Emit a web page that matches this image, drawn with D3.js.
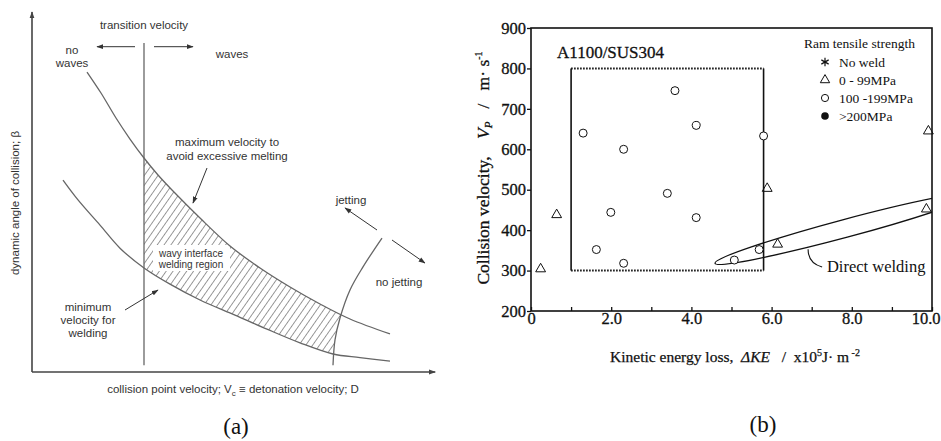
<!DOCTYPE html>
<html><head><meta charset="utf-8">
<script src="https://cdn.jsdelivr.net/npm/d3@7"></script>
<style>
html,body{margin:0;padding:0;background:#fff;}
svg{display:block;}
</style></head>
<body>
<svg id="chart" width="941" height="441"></svg>
<script>
// ---------------- Panel (a) data (abstract units 0..100) ----------------
const transitionVelocity = 28;
const upperCurve = [[13.75,83.33],[17.25,77.5],[21,70.56],[24.5,64.72],[28,59.44],[31.5,54.72],[35,50.56],[42,42.78],[49.5,35],[57,28.89],[64.5,23.61],[72,18.89],[79.5,14.72],[89.5,10.56]];
const lowerCurve = [[7.75,53.3],[11.5,47.8],[17,40.8],[22,34.4],[28,28.9],[34.5,24.4],[42,20],[50.75,15.8],[58.75,11.9],[67,8.1],[75.25,5.0],[82,4.0],[89.5,3.0]];
const jettingCurve = [[87.5,37.2],[82.75,29.2],[79.5,22.8],[77,15],[75.75,8.9],[75.25,1.9]];

// ---------------- Panel (b) data ----------------
const xTicksB = [0,1,2,3,4,5,6,7,8,9,10];
const xTickLabelsB = ["0","","2.0","","4.0","","6.0","","8.0","","10.0"];
const yTicksB = [200,300,400,500,600,700,800,900];
const circlesX = [1.30,2.31,3.59,4.12,5.80,3.40,1.99,4.12,1.63,2.31,5.07,5.69];
const circlesY = [640,600,745,659,633,491,444,431,352,318,326,352];
const trianglesX = [0.24,0.64,5.89,6.15,9.91,9.86];
const trianglesY = [304,438,503,365,645,452];
const boxRange = {x:[1.0,5.8], y:[300,800]};
const ellipseCenter = [7.83,404];
const ellipseTip = [4.59,318];
const ellipseMinorRatio = 0.067;
const legendTitle = "Ram tensile strength";
const legendLabels = ["No weld","0 - 99MPa","100 -199MPa",">200MPa"];
const legendKinds = ["asterisk","triangle","circle","filled"];

const NB = "\u00A0";
const svg = d3.select("#chart");
const defs = svg.append("defs");

// arrow markers
function marker(id,color){
  defs.append("marker").attr("id",id).attr("viewBox","0 0 10 10")
    .attr("refX",9).attr("refY",5).attr("markerWidth",7).attr("markerHeight",7)
    .attr("markerUnits","userSpaceOnUse").attr("orient","auto")
    .append("path").attr("d","M0,1.5 L10,5 L0,8.5 Z").attr("fill",color);
}
marker("arrA","#333");
marker("arrAxis","#444");

// ======================= Panel (a) =======================
const xA = d3.scaleLinear().domain([0,100]).range([32,432]);
const yA = d3.scaleLinear().domain([0,100]).range([372,12]);
const gA = svg.append("g");
const lineA = d3.line().x(d=>xA(d[0])).y(d=>yA(d[1])).curve(d3.curveCatmullRom.alpha(0.5));
const lineColor = "#666";
const txtColor = "#333";
const sans = "'Liberation Sans', Arial, sans-serif";

// hatch pattern
const pat = defs.append("pattern").attr("id","hatch").attr("patternUnits","userSpaceOnUse")
  .attr("width",5.6).attr("height",10).attr("patternTransform","rotate(35)");
pat.append("line").attr("x1",0).attr("y1",0).attr("x2",0).attr("y2",10)
  .attr("stroke","#555").attr("stroke-width",1.2);

// clip: band between curves
const upperPath = lineA(upperCurve);
const lowerRevPath = lineA(lowerCurve.slice().reverse());
defs.append("clipPath").attr("id","bandClip").append("path")
  .attr("d", upperPath + lowerRevPath.replace(/^M/,"L") + "Z");
const jetPath = lineA(jettingCurve);
defs.append("clipPath").attr("id","jetClip").append("path")
  .attr("d","M"+xA(transitionVelocity)+","+yA(100)+"L"+xA(95)+","+yA(100)+jetPath.replace(/^M/,"L")+
        "L"+xA(transitionVelocity)+","+yA(0)+"Z");
gA.append("g").attr("clip-path","url(#bandClip)")
  .append("g").attr("clip-path","url(#jetClip)")
  .append("rect").attr("x",0).attr("y",0).attr("width",470).attr("height",441).attr("fill","url(#hatch)");

// label box
gA.append("rect").attr("x",153).attr("y",245).attr("width",77).attr("height",26).attr("fill","#fff");

// curves
gA.append("path").attr("d",upperPath).attr("fill","none").attr("stroke",lineColor).attr("stroke-width",1.3);
gA.append("path").attr("d",lineA(lowerCurve)).attr("fill","none").attr("stroke",lineColor).attr("stroke-width",1.3);
gA.append("path").attr("d",jetPath).attr("fill","none").attr("stroke",lineColor).attr("stroke-width",1.3);
gA.append("line").attr("x1",xA(transitionVelocity)).attr("x2",xA(transitionVelocity))
  .attr("y1",yA(91.4)).attr("y2",yA(1.9)).attr("stroke",lineColor).attr("stroke-width",1.3);

// axes
gA.append("line").attr("x1",xA(0)).attr("y1",yA(0)).attr("x2",xA(0)).attr("y2",yA(100))
  .attr("stroke","#444").attr("stroke-width",1.6).attr("marker-end","url(#arrAxis)");
gA.append("line").attr("x1",xA(0)).attr("y1",yA(0)).attr("x2",xA(100.8)).attr("y2",yA(0))
  .attr("stroke","#444").attr("stroke-width",1.6).attr("marker-end","url(#arrAxis)");

// annotation arrows
const arrows = [[135,46.7,97,46.7],[154,46.7,193,46.7],[207,168,193,203],[125,310,158,290],[377,230,345,208],[392,240,425,263]];
gA.selectAll("line.ann").data(arrows).join("line").attr("class","ann")
  .attr("x1",d=>d[0]).attr("y1",d=>d[1]).attr("x2",d=>d[2]).attr("y2",d=>d[3])
  .attr("stroke","#333").attr("stroke-width",1).attr("marker-end","url(#arrA)");

// texts
const textsA = [
  ["transition velocity",144,29,11.5],
  ["no",72,54,11.5],["waves",72,67,11.5],
  ["waves",232,58,11.5],
  ["maximum velocity to",227,146,11.5],["avoid excessive melting",227,160,11.5],
  ["wavy interface",191,257,10],["welding region",191,268,10],
  ["minimum",88,311,11.5],["velocity for",88,324,11.5],["welding",88,337,11.5],
  ["jetting",351,204,11.5],["no jetting",399,286,11.5]
];
gA.selectAll("text.ta").data(textsA).join("text").attr("class","ta")
  .attr("x",d=>d[1]).attr("y",d=>d[2]).attr("font-size",d=>d[3])
  .attr("text-anchor","middle").attr("font-family",sans).attr("fill",txtColor).text(d=>d[0]);

const xl = gA.append("text").attr("x",233).attr("y",393).attr("text-anchor","middle")
  .attr("font-family",sans).attr("font-size",11.5).attr("fill",txtColor);
xl.append("tspan").text("collision point velocity; V");
xl.append("tspan").attr("font-size",8).attr("dy",3).text("c");
xl.append("tspan").attr("dy",-3).text(" \u2261 detonation velocity; D");
gA.append("text").attr("transform","translate(19,203) rotate(-90)").attr("text-anchor","middle")
  .attr("font-family",sans).attr("font-size",11.5).attr("fill",txtColor).text("dynamic angle of collision; \u03B2");
svg.append("text").attr("x",236).attr("y",434).attr("text-anchor","middle")
  .attr("font-family","'Liberation Serif', 'Times New Roman', serif").attr("font-size",23).attr("fill","#111").text("(a)");

// ======================= Panel (b) =======================
const serif = "'Liberation Serif', 'Times New Roman', serif";
const xB = d3.scaleLinear().domain([0,10]).range([531,932]);
const yB = d3.scaleLinear().domain([200,900]).range([311,28]);
const gB = svg.append("g");
defs.append("clipPath").attr("id","plotB").append("rect")
  .attr("x",xB(0)).attr("y",yB(900)).attr("width",xB(10)-xB(0)).attr("height",yB(200)-yB(900));

// dotted box
[boxRange.y[1], boxRange.y[0]].forEach(y=>{
  gB.append("line").attr("x1",xB(boxRange.x[0])).attr("x2",xB(boxRange.x[1])).attr("y1",yB(y)).attr("y2",yB(y))
    .attr("stroke","#111").attr("stroke-width",2).attr("stroke-dasharray","1.6,1.4");
});
boxRange.x.forEach(x=>{
  gB.append("line").attr("x1",xB(x)).attr("x2",xB(x)).attr("y1",yB(boxRange.y[0])).attr("y2",yB(boxRange.y[1]))
    .attr("stroke","#111").attr("stroke-width",1.6);
});

// ellipse
(function(){
  const cx = xB(ellipseCenter[0]), cy = yB(ellipseCenter[1]);
  const tx = xB(ellipseTip[0]), ty = yB(ellipseTip[1]);
  const a = Math.hypot(cx-tx, cy-ty);
  const b = a*ellipseMinorRatio;
  const ang = Math.atan2(cy-ty, cx-tx)*180/Math.PI;
  gB.append("g").attr("clip-path","url(#plotB)")
    .append("ellipse").attr("cx",0).attr("cy",0).attr("rx",a).attr("ry",b)
    .attr("transform",`translate(${cx},${cy}) rotate(${ang})`)
    .attr("fill","none").attr("stroke","#111").attr("stroke-width",1.3);
})();
// leader line for Direct welding
gB.append("path").attr("d",`M${xB(6.91)},${yB(353)} Q${xB(6.91)},${yB(318)} ${xB(7.26)},${yB(309)}`)
  .attr("fill","none").attr("stroke","#111").attr("stroke-width",1.1);
gB.append("text").attr("x",xB(7.38)).attr("y",yB(309)+5).attr("font-family",serif).attr("font-size",16.5)
  .attr("fill","#111").text("Direct welding");

// frame
gB.append("rect").attr("x",xB(0)).attr("y",yB(900)).attr("width",xB(10)-xB(0)).attr("height",yB(200)-yB(900))
  .attr("fill","none").attr("stroke","#111").attr("stroke-width",1.6);

// axes
const ax = gB.append("g").attr("transform",`translate(0,${yB(200)})`)
  .call(d3.axisBottom(xB).tickValues(xTicksB).tickSize(-4).tickPadding(1).tickFormat((d,i)=>xTickLabelsB[i]));
const ay = gB.append("g").attr("transform",`translate(${xB(0)},0)`)
  .call(d3.axisLeft(yB).tickValues(yTicksB).tickSize(4).tickPadding(1).tickFormat(d3.format("d")));
[ax,ay].forEach(g=>{
  g.select(".domain").remove();
  g.selectAll("line").attr("stroke","#111").attr("stroke-width",1.3);
  g.selectAll("text").attr("font-family",serif).attr("font-size",16.5).attr("fill","#111")
    .attr("stroke","#111").attr("stroke-width",0.3);
});
// last x label sits at the page edge: anchor it to its end so it stays inside
ax.selectAll(".tick").filter(d=>d===10).select("text").attr("text-anchor","end").attr("x",940-xB(10));

// data markers
gB.selectAll("circle.pt").data(circlesX.map((x,i)=>[x,circlesY[i]])).join("circle").attr("class","pt")
  .attr("cx",d=>xB(d[0])).attr("cy",d=>yB(d[1])).attr("r",4)
  .attr("fill","#fff").attr("stroke","#111").attr("stroke-width",1);
const tri = d3.symbol().type(d3.symbolTriangle).size(42);
gB.selectAll("path.tri").data(trianglesX.map((x,i)=>[x,trianglesY[i]])).join("path").attr("class","tri")
  .attr("d",tri).attr("transform",d=>`translate(${xB(d[0])},${yB(d[1])})`)
  .attr("fill","none").attr("stroke","#111").attr("stroke-width",1);

// title
gB.append("text").attr("x",557).attr("y",58).attr("font-family",serif).attr("font-size",17)
  .attr("fill","#111").attr("stroke","#111").attr("stroke-width",0.3).text("A1100/SUS304");

// legend
gB.append("text").attr("x",804).attr("y",48).attr("font-family",serif).attr("font-size",13.5).attr("fill","#111").text(legendTitle);
const lg = gB.selectAll("g.lg").data(legendLabels).join("g").attr("class","lg")
  .attr("transform",(d,i)=>`translate(825,${62+i*18})`);
lg.each(function(d,i){
  const g = d3.select(this);
  const k = legendKinds[i];
  if(k==="asterisk"){
    g.append("path").attr("d",d3.symbol().type(d3.symbolAsterisk||d3.symbolCross).size(50)())
      .attr("fill","none").attr("stroke","#111").attr("stroke-width",1.2);
  } else if(k==="triangle"){
    g.append("path").attr("d",d3.symbol().type(d3.symbolTriangle).size(38)()).attr("fill","none").attr("stroke","#111").attr("stroke-width",1);
  } else if(k==="circle"){
    g.append("circle").attr("r",3.6).attr("fill","#fff").attr("stroke","#111").attr("stroke-width",1);
  } else {
    g.append("circle").attr("r",3.8).attr("fill","#111");
  }
  g.append("text").attr("x",14).attr("y",4.5).attr("font-family",serif).attr("font-size",13.5).attr("fill","#111").text(d);
});

// axis labels
const yl = gB.append("text").attr("transform","translate(489,168) rotate(-90)").attr("text-anchor","middle")
  .attr("font-family",serif).attr("font-size",17.5).attr("fill","#111").attr("stroke","#111").attr("stroke-width",0.3);
yl.append("tspan").text("Collision velocity,"+NB+NB+NB+NB);
yl.append("tspan").attr("font-style","italic").text("V");
yl.append("tspan").attr("font-style","italic").attr("font-size",11).attr("dy",3).text("P");
yl.append("tspan").attr("dy",-3).text(NB+NB+NB+"/"+NB+NB+NB+"m\u00B7"+NB+"s");
yl.append("tspan").attr("font-size",10).attr("dy",-7).text("-1");

const xlb = gB.append("text").attr("x",735).attr("y",362).attr("text-anchor","middle")
  .attr("font-family",serif).attr("font-size",15.5).attr("fill","#111").attr("stroke","#111").attr("stroke-width",0.25);
xlb.append("tspan").text("Kinetic energy loss,"+NB+NB);
xlb.append("tspan").attr("font-style","italic").text("\u0394KE");
xlb.append("tspan").text(NB+NB+NB+"/"+NB+NB+"x10");
xlb.append("tspan").attr("font-size",10).attr("dy",-6).text("5");
xlb.append("tspan").attr("dy",6).text("J\u00B7 m");
xlb.append("tspan").attr("font-size",10).attr("dy",-6).text(NB+"-2");

svg.append("text").attr("x",763).attr("y",432).attr("text-anchor","middle")
  .attr("font-family",serif).attr("font-size",23).attr("fill","#111").text("(b)");
</script>
</body></html>
